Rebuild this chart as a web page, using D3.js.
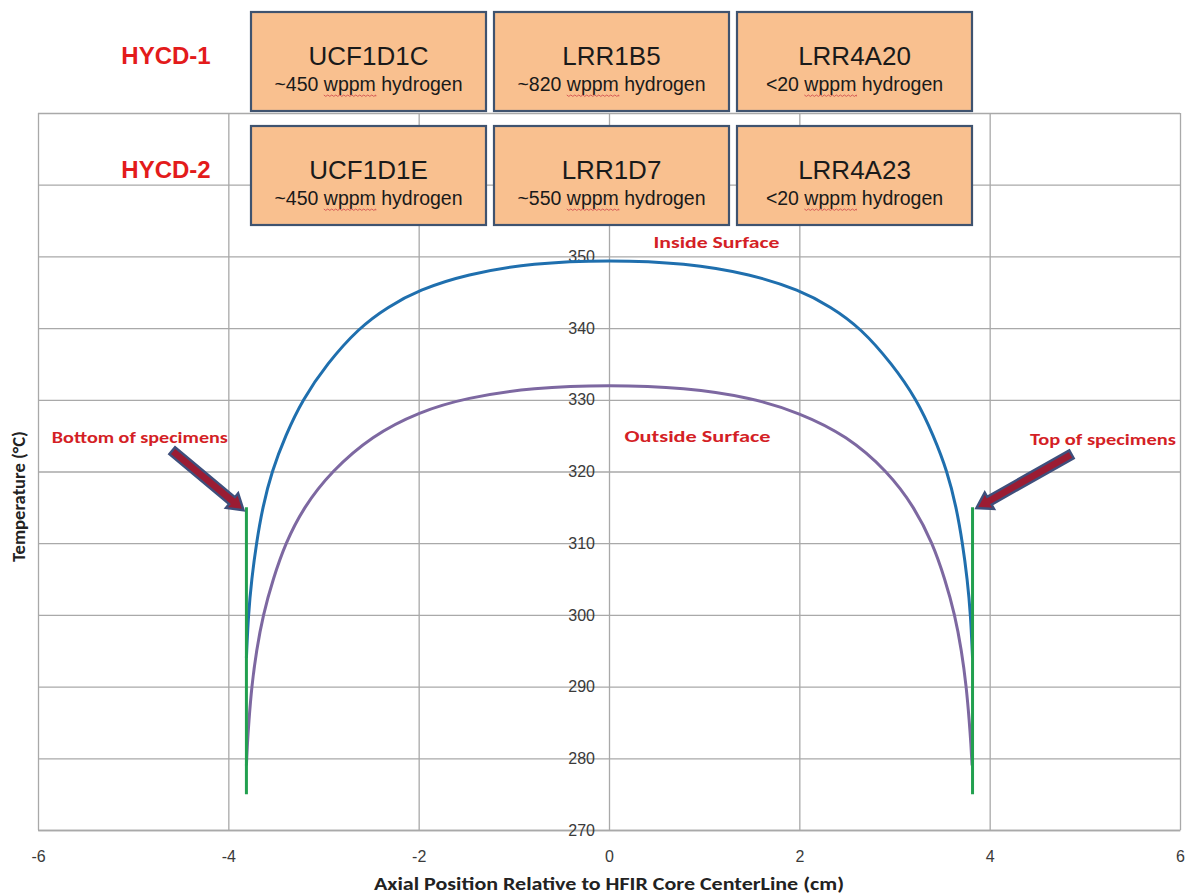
<!DOCTYPE html>
<html>
<head>
<meta charset="utf-8">
<script src="https://cdn.jsdelivr.net/npm/d3@7"></script>
<style>
  html, body { margin: 0; padding: 0; background: #ffffff; }
  svg { display: block; }
</style>
</head>
<body>
<svg id="chart" width="1187" height="894"></svg>
<script>
// ---- Data: axial position (cm) vs. temperature (°C) ----
const insideSurface = [
  [-3.81, 294], [-3.79, 300], [-3.755, 305], [-3.705, 310], [-3.64, 315], [-3.544, 320],
  [-3.40, 325], [-3.221, 330], [-2.965, 335], [-2.632, 340], [-2.32, 343.0], [-2.0, 345.3],
  [-1.5, 347.5], [-0.8, 349.1], [0, 349.5], [0.8, 349.1], [1.5, 347.5], [2.0, 345.3],
  [2.33, 343.0], [2.645, 340], [2.975, 335], [3.235, 330], [3.41, 325], [3.555, 320],
  [3.65, 315], [3.715, 310], [3.765, 305], [3.80, 300], [3.82, 294]
];
const outsideSurface = [
  [-3.81, 279], [-3.80, 282], [-3.785, 285], [-3.755, 290], [-3.705, 295], [-3.635, 300],
  [-3.53, 305], [-3.40, 310], [-3.21, 315], [-2.92, 320], [-2.49, 325], [-2.0, 328.3],
  [-1.5, 330.3], [-0.8, 331.7], [0, 332.1], [0.8, 331.7], [1.5, 330.3], [2.0, 328.2],
  [2.5, 325], [2.93, 320], [3.21, 315], [3.40, 310], [3.53, 305], [3.635, 300],
  [3.705, 295], [3.755, 290], [3.787, 285], [3.803, 282], [3.815, 279]
];
// Specimen ends (bottom and top of the stack)
const specimenBottom = [[-3.81, 275], [-3.81, 315]];
const specimenTop = [[3.82, 275], [3.82, 315]];

// ---- Axis ticks ----
const xTicks = [-6, -4, -2, 0, 2, 4, 6];
const yGridTicks = [270, 280, 290, 300, 310, 320, 330, 340, 350, 360, 370];
const yTickLabels = [270, 280, 290, 300, 310, 320, 330, 340, 350];

// ---- Capsule contents ----
const capsules = ["HYCD-1", "HYCD-2"];
const specimenIds = [
  ["UCF1D1C", "LRR1B5", "LRR4A20"],
  ["UCF1D1E", "LRR1D7", "LRR4A23"]
];
const hydrogenContent = [
  ["~450 wppm hydrogen", "~820 wppm hydrogen", "<20 wppm hydrogen"],
  ["~450 wppm hydrogen", "~550 wppm hydrogen", "<20 wppm hydrogen"]
];

// ---- Layout ----
const plot = { left: 38, right: 1180, top: 113, bottom: 830 };
const svg = d3.select("#chart");

const x = d3.scaleLinear().domain([-6, 6]).range([plot.left, plot.right]);
const y = d3.scaleLinear().domain([270, 370]).range([plot.bottom, plot.top]);

const gridColor = "#a9a9a9";
const labelFont = "'Liberation Sans', Arial, sans-serif";
const narrowFont = "Carlito, 'Liberation Sans Narrow', 'Liberation Sans', Arial, sans-serif";
const noteRed = "#d41f26";

// Gridlines
const gx = svg.append("g")
  .attr("transform", `translate(0,${plot.bottom})`)
  .call(d3.axisBottom(x).tickValues(xTicks).tickSize(-(plot.bottom - plot.top)).tickFormat(""));
const gy = svg.append("g")
  .attr("transform", `translate(${plot.left},0)`)
  .call(d3.axisLeft(y).tickValues(yGridTicks).tickSize(-(plot.right - plot.left)).tickFormat(""));
[gx, gy].forEach(g => {
  g.select(".domain").remove();
  g.selectAll(".tick line").attr("stroke", gridColor).attr("stroke-width", 1.3);
});

// X axis labels
const xAxis = svg.append("g")
  .attr("transform", `translate(0,${plot.bottom})`)
  .call(d3.axisBottom(x).tickValues(xTicks).tickSize(0).tickPadding(21).tickFormat(d3.format("d")));
xAxis.select(".domain").attr("stroke", gridColor).attr("stroke-width", 1.3);
xAxis.selectAll("text").attr("font-family", labelFont).attr("font-size", 16).attr("fill", "#3a3a3a")
  .text(d => d < 0 ? "-" + Math.abs(d) : d);

// Y axis labels, drawn along x = 0
const yAxis = svg.append("g")
  .attr("transform", `translate(${x(0)},0)`)
  .call(d3.axisLeft(y).tickValues(yTickLabels).tickSize(0).tickPadding(14).tickFormat(d3.format("d")));
yAxis.select(".domain").remove();
yAxis.selectAll("text").attr("font-family", labelFont).attr("font-size", 16).attr("fill", "#3a3a3a");

// Temperature profiles (smoothed)
const line = d3.line().x(d => x(d[0])).y(d => y(d[1])).curve(d3.curveBasis);
const straight = d3.line().x(d => x(d[0])).y(d => y(d[1]));

svg.append("path").datum(insideSurface).attr("d", line)
  .attr("fill", "none").attr("stroke", "#1f6fae").attr("stroke-width", 3)
  .attr("stroke-linejoin", "round");
svg.append("path").datum(outsideSurface).attr("d", line)
  .attr("fill", "none").attr("stroke", "#7d68a1").attr("stroke-width", 3)
  .attr("stroke-linejoin", "round");
[specimenBottom, specimenTop].forEach(seg => {
  svg.append("path").datum(seg).attr("d", straight)
    .attr("fill", "none").attr("stroke", "#22a04f").attr("stroke-width", 3);
});

// Block arrows pointing at the specimen ends
function blockArrow(tail, tip) {
  const x0 = x(tail[0]), y0 = y(tail[1]), x1 = x(tip[0]), y1 = y(tip[1]);
  const len = Math.hypot(x1 - x0, y1 - y0);
  const ux = (x1 - x0) / len, uy = (y1 - y0) / len;
  const nx = -uy, ny = ux;
  const sw = 4.5, hw = 9.5, hl = 15;
  const bx = x1 - ux * hl, by = y1 - uy * hl;
  const pts = [
    [x0 + nx * sw, y0 + ny * sw], [bx + nx * sw, by + ny * sw], [bx + nx * hw, by + ny * hw],
    [x1, y1],
    [bx - nx * hw, by - ny * hw], [bx - nx * sw, by - ny * sw], [x0 - nx * sw, y0 - ny * sw]
  ];
  svg.append("polygon").attr("points", pts.map(p => p.join(",")).join(" "))
    .attr("fill", "#9b1c33").attr("stroke", "#3e4f7c").attr("stroke-width", 2.4)
    .attr("stroke-linejoin", "miter");
}
blockArrow([-4.59, 322.9], [-3.84, 314.6]);
blockArrow([4.86, 322.4], [3.86, 314.9]);

// Notes
const notes = [
  { text: "Inside Surface", at: [1.13, 352.0], width: 126 },
  { text: "Outside Surface", at: [0.93, 324.95], width: 146 },
  { text: "Bottom of specimens", at: [-4.93, 324.7], width: 176 },
  { text: "Top of specimens", at: [5.19, 324.45], width: 146 }
];
svg.append("g").selectAll("text").data(notes).join("text")
  .attr("x", d => x(d.at[0])).attr("y", d => y(d.at[1]))
  .attr("text-anchor", "middle").attr("dominant-baseline", "central")
  .attr("font-family", narrowFont).attr("font-weight", "bold").attr("font-size", 16)
  .attr("fill", noteRed)
  .attr("textLength", d => d.width).attr("lengthAdjust", "spacingAndGlyphs")
  .text(d => d.text);

// Axis titles
svg.append("text")
  .attr("x", x(0)).attr("y", 884)
  .attr("text-anchor", "middle").attr("dominant-baseline", "central")
  .attr("font-family", narrowFont).attr("font-weight", "bold").attr("font-size", 17)
  .attr("fill", "#222").attr("textLength", 470).attr("lengthAdjust", "spacingAndGlyphs")
  .text("Axial Position Relative to HFIR Core CenterLine (cm)");
svg.append("text")
  .attr("transform", `translate(19,${y(316.5)}) rotate(-90)`)
  .attr("text-anchor", "middle").attr("dominant-baseline", "central")
  .attr("font-family", narrowFont).attr("font-weight", "bold").attr("font-size", 17)
  .attr("fill", "#222").attr("textLength", 131).attr("lengthAdjust", "spacingAndGlyphs")
  .text("Temperature (°C)");

// Capsule boxes on top of the chart
const boxCols = [251, 494, 737];
const boxRows = [12, 126];
const boxW = 235, boxH = 99;

capsules.forEach((name, r) => {
  svg.append("text")
    .attr("x", 166).attr("y", boxRows[r] + 43)
    .attr("text-anchor", "middle").attr("dominant-baseline", "central")
    .attr("font-family", labelFont).attr("font-weight", "bold").attr("font-size", 24)
    .attr("fill", "#e31b1b").text(name);

  specimenIds[r].forEach((id, c) => {
    const g = svg.append("g").attr("transform", `translate(${boxCols[c]},${boxRows[r]})`);
    g.append("rect").attr("width", boxW).attr("height", boxH)
      .attr("fill", "#f9c08f").attr("stroke", "#3f536f").attr("stroke-width", 2.2);
    g.append("text")
      .attr("x", boxW / 2).attr("y", 44)
      .attr("text-anchor", "middle").attr("dominant-baseline", "central")
      .attr("font-family", labelFont).attr("font-size", 26).attr("fill", "#1a1a1a")
      .text(id);
    const sub = g.append("text")
      .attr("x", boxW / 2).attr("y", 72)
      .attr("text-anchor", "middle").attr("dominant-baseline", "central")
      .attr("font-family", labelFont).attr("font-size", 19.5).attr("fill", "#1a1a1a")
      .text(hydrogenContent[r][c]);

    // spell-check squiggle under "wppm"
    const node = sub.node();
    const txt = hydrogenContent[r][c];
    const i = txt.indexOf("wppm");
    if (i >= 0) {
      const start = node.getStartPositionOfChar(i).x;
      const wlen = node.getSubStringLength(i, 4);
      const yy = 83;
      let d = `M${start},${yy}`;
      for (let k = 0, px = start; px < start + wlen; k++) {
        px += 2;
        d += ` L${Math.min(px, start + wlen)},${yy + (k % 2 === 0 ? 1.4 : 0)}`;
      }
      g.append("path").attr("d", d).attr("fill", "none")
        .attr("stroke", "#d0504f").attr("stroke-width", 0.9);
    }
  });
});
</script>
</body>
</html>
